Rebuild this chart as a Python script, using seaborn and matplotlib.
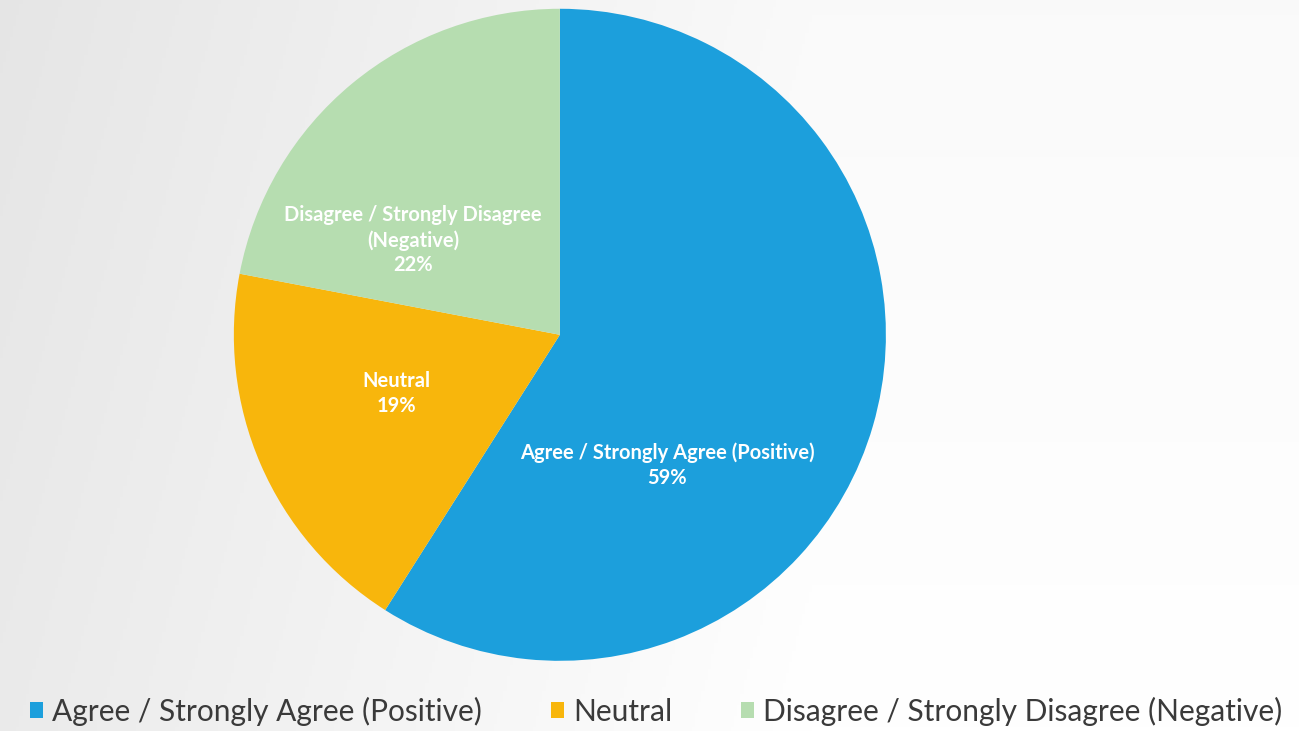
import numpy as np
import matplotlib
matplotlib.use("Agg")
import matplotlib.pyplot as plt
import seaborn as sns

# Survey response shares (percent)
categories = ["Agree / Strongly Agree (Positive)", "Neutral",
              "Disagree / Strongly Disagree (Negative)"]
shares = [59, 19, 22]
slice_labels = ["Agree / Strongly Agree (Positive)\n59%",
                "Neutral\n19%",
                "Disagree / Strongly Disagree\n(Negative)\n22%"]
colors = ["#1c9fdc", "#f8b60c", "#b6ddb0"]

sns.set_theme(style="white")
plt.rcParams["font.family"] = ["Lato", "DejaVu Sans"]

fig = plt.figure(figsize=(12.99, 7.31), dpi=100)

# soft paper-like background, darker toward the left edge
bg = fig.add_axes([0, 0, 1, 1], zorder=-10)
gx = np.linspace(0, 1, 400)
gy = np.linspace(0, 1, 200)
X, Y = np.meshgrid(gx, gy)
shade = 0.90 + 0.08 * np.clip(X * 1.6, 0, 1) + 0.02 * (1 - Y)
bg.imshow(np.dstack([shade] * 3), aspect="auto", extent=[0, 1, 0, 1],
          origin="lower")
bg.axis("off")

ax = fig.add_axes([0.180, 0.096, 0.502, 0.892])
wedges, _ = ax.pie(shares, colors=sns.color_palette(colors),
                   startangle=90, counterclock=False,
                   wedgeprops=dict(linewidth=0))
ax.set_xlim(-1, 1)
ax.set_ylim(-1, 1)
ax.set_aspect("equal")

# slice labels in the spots chosen by the layout
label_pos = [(0.33, -0.40), (-0.50, -0.18), (-0.45, 0.29)]
for txt, (lx, ly) in zip(slice_labels, label_pos):
    ax.text(lx, ly, txt, ha="center", va="center", color="white",
            fontsize=14.5, fontweight="bold", linespacing=1.3)

fig.legend(wedges, categories, loc="lower center", ncol=3,
           bbox_to_anchor=(0.505, -0.03), frameon=False,
           fontsize=21.5, handlelength=0.45, handleheight=0.45,
           handletextpad=0.3, columnspacing=2.3,
           labelcolor="#3a3a3a")

fig.savefig("out.png", dpi=100)
